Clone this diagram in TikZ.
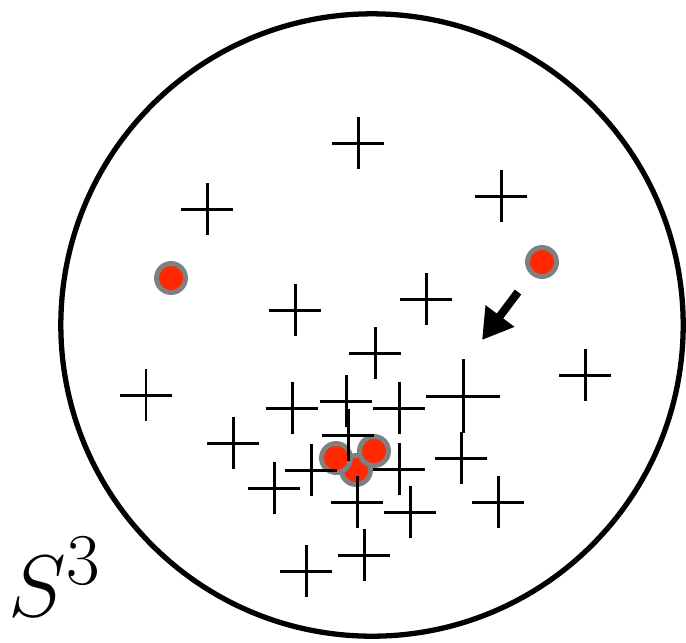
\documentclass[tikz,border=0pt]{standalone}
\usetikzlibrary{arrows.meta}
\definecolor{dotred}{RGB}{255,40,0}
\definecolor{ringgray}{RGB}{128,128,128}
\begin{document}
\begin{tikzpicture}[x=0.01cm, y=-0.01cm,
    sample/.style={circle, fill=dotred, draw=ringgray, line width=1.4pt,
        minimum size=0.29cm, inner sep=0pt},
    mark line/.style={line width=0.85pt}]
    \def\R{3.11cm}
    \def\L{26}
    \useasboundingbox (0,0) rectangle (686,642);
    % Sphere
    \draw[line width=1.5pt] (372,325) circle (\R);
    \node[anchor=base west, inner sep=0pt, font=\fontsize{30}{36}\selectfont]
        (label) at (8,616) {$S^3$};

    % Samples
    \node[sample] (p1) at (171,278) {};
    \node[sample] (p2) at (542,262) {};
    \node[sample] (p3) at (356,470) {};
    \node[sample] (p4) at (336,458) {};
    \node[sample] (p5) at (374,451) {};

    % Crosses
    \foreach \x/\y in {358/143, 207/209, 501/196, 295/310, 426/299,
        375/353, 146/395, 585/375, 292/408, 346/401, 399/408, 233/443,
        348/435, 311/470, 399/469, 461/458, 274/488, 357/502, 410/512,
        498/502, 364/555, 306/571}
        \draw[mark line] (\x-\L,\y) -- (\x+\L,\y) (\x,\y-\L) -- (\x,\y+\L);
    % Large cross
    \draw[mark line] (426,396) -- (500,396) (463,359) -- (463,433);

    % Step
    \coordinate (from) at (518,292);
    \coordinate (to) at (482,340);
    \draw[line width=2.3pt, -{Triangle[length=0.3cm, width=0.34cm]}] (from) -- (to);
\end{tikzpicture}
\end{document}
